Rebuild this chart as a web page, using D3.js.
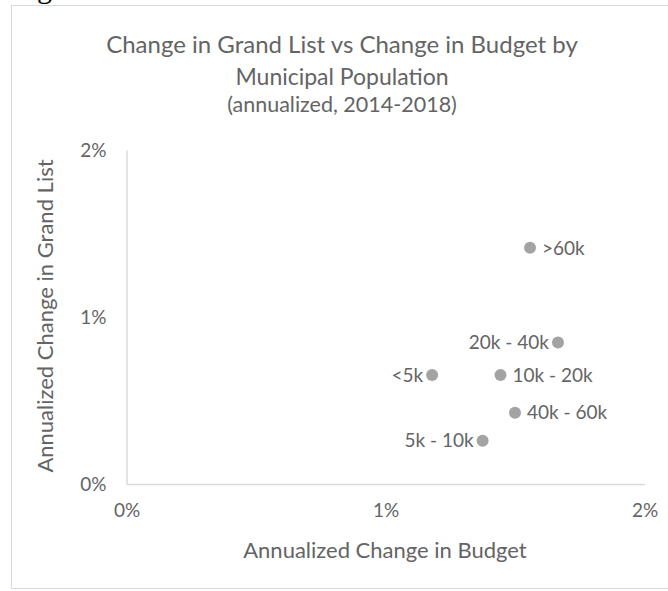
<!DOCTYPE html>
<html>
<head>
<meta charset="utf-8">
<script src="https://cdn.jsdelivr.net/npm/d3@7"></script>
<style>
  body { margin: 0; background: #ffffff; }
  svg { display: block; font-family: Lato, "Open Sans", sans-serif; }
</style>
</head>
<body>
<svg></svg>
<script>
// population groups and their annualized changes (2014-2018)
const groups = [">60k", "20k - 40k", "<5k", "10k - 20k", "40k - 60k", "5k - 10k"];
const budgetChange = [0.01558, 0.01666, 0.01180, 0.01444, 0.01500, 0.01375];
const grandListChange = [0.01414, 0.00847, 0.00653, 0.00653, 0.00427, 0.00259];
const labelSide = ["right", "left", "left", "right", "right", "left"];
const tickValues = [0, 0.01, 0.02];

const titleLines = ["Change in Grand List vs Change in Budget by", "Municipal Population", "(annualized, 2014-2018)"];

const width = 668;
const height = 591;
const textColor = "#646464";
const lineColor = "#d9d9d9";

const svg = d3.select("svg")
  .attr("width", width)
  .attr("height", height);

// stray bit of the figure caption above the chart
svg.append("text")
  .attr("x", 37)
  .attr("y", -2)
  .attr("font-family", "Liberation Serif, serif")
  .attr("font-size", 30)
  .attr("fill", "#000")
  .text("g");

// chart frame
svg.append("rect")
  .attr("x", 11.5)
  .attr("y", 5.5)
  .attr("width", 700)
  .attr("height", 583)
  .attr("fill", "#fff")
  .attr("stroke", lineColor);

const xScale = d3.scaleLinear().domain([0, 0.02]).range([126.5, 644.5]);
const yScale = d3.scaleLinear().domain([0, 0.02]).range([484, 150]);

const fmt = d3.format(".0%");

const xAxis = svg.append("g")
  .attr("transform", "translate(0," + yScale(0) + ")")
  .call(d3.axisBottom(xScale).tickValues(tickValues).tickFormat(fmt).tickSize(0).tickPadding(20));

const yAxis = svg.append("g")
  .attr("transform", "translate(" + xScale(0) + ",0)")
  .call(d3.axisLeft(yScale).tickValues(tickValues).tickFormat(fmt).tickSize(0).tickPadding(20));

[xAxis, yAxis].forEach(ax => {
  ax.select(".domain").attr("stroke", lineColor).attr("stroke-width", 1.5);
  ax.selectAll("text")
    .attr("fill", textColor)
    .attr("font-size", 19)
    .attr("font-family", "Lato, sans-serif");
});

// title
svg.append("g").selectAll("text")
  .data(titleLines)
  .enter()
  .append("text")
  .attr("x", 342)
  .attr("y", (d, i) => [53, 85, 112][i])
  .attr("text-anchor", "middle")
  .attr("fill", textColor)
  .attr("font-size", (d, i) => [24, 23, 21.5][i])
  .text(d => d);

// axis titles
svg.append("text")
  .attr("x", 385)
  .attr("y", 558)
  .attr("text-anchor", "middle")
  .attr("fill", textColor)
  .attr("font-size", 22)
  .text("Annualized Change in Budget");

svg.append("text")
  .attr("transform", "translate(53,316) rotate(-90)")
  .attr("text-anchor", "middle")
  .attr("fill", textColor)
  .attr("font-size", 22)
  .text("Annualized Change in Grand List");

// points
const pts = svg.append("g").selectAll("g")
  .data(groups)
  .enter()
  .append("g");

pts.append("circle")
  .attr("cx", (d, i) => xScale(budgetChange[i]))
  .attr("cy", (d, i) => yScale(grandListChange[i]))
  .attr("r", 6)
  .attr("fill", "#a3a3a3");

pts.append("text")
  .attr("x", (d, i) => xScale(budgetChange[i]) + (labelSide[i] === "right" ? 12 : -9))
  .attr("y", (d, i) => yScale(grandListChange[i]))
  .attr("dy", "0.35em")
  .attr("text-anchor", (d, i) => labelSide[i] === "right" ? "start" : "end")
  .attr("fill", textColor)
  .attr("font-size", 19)
  .text(d => d);
</script>
</body>
</html>
